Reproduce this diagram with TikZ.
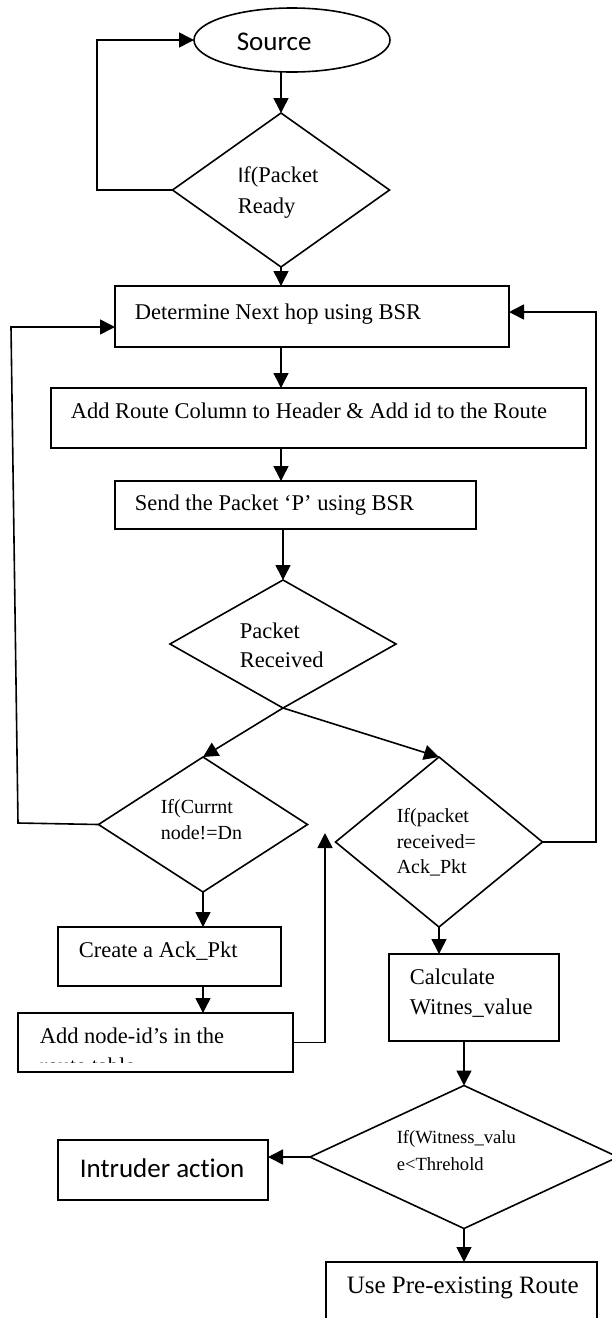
\documentclass[tikz,border=0pt]{standalone}
\usepackage{fontspec}
\setmainfont{Liberation Serif}
\newfontfamily\calibri[Ligatures=NoCommon]{Carlito}
\usetikzlibrary{arrows.meta,shapes.geometric}
\begin{document}
\begin{tikzpicture}[x=1pt,y=-1pt,
  line width=1.6pt,
  arr/.style={-{Triangle[length=15pt,width=15pt]}},
  boxnode/.style={draw,rectangle,inner sep=0pt,outer sep=0pt},
  dia/.style={draw,diamond,inner sep=0pt,outer sep=0pt},
  txt/.style={anchor=base west,inner sep=0pt,font=\fontsize{22.5}{27}\selectfont},
  txts/.style={anchor=base west,inner sep=0pt,font=\fontsize{20}{24}\selectfont},
  txtw/.style={anchor=base west,inner sep=0pt,font=\fontsize{18.6}{22}\selectfont},
  txtc/.style={anchor=base west,inner sep=0pt,font=\calibri\fontsize{27}{32}\selectfont},
]
\useasboundingbox[fill=white] (0,0) rectangle (611,1318);

% shapes
\node[draw,ellipse,inner sep=0pt,outer sep=0pt,minimum width=196pt,minimum height=64pt] (src) at (292,40) {};
\node[dia,minimum width=217pt,minimum height=154pt] (d1) at (281,190) {};
\node[boxnode,minimum width=394pt,minimum height=61pt] (b1) at (312,316.5) {};
\node[boxnode,minimum width=535pt,minimum height=60pt] (b2) at (318.5,418) {};
\node[boxnode,minimum width=361pt,minimum height=48pt] (b3) at (295.5,505) {};
\node[dia,minimum width=226pt,minimum height=128pt] (d2) at (283,644) {};
\node[dia,minimum width=209pt,minimum height=135pt] (d3) at (203,824.5) {};
\node[dia,minimum width=207pt,minimum height=170pt] (d4) at (439,842) {};
\node[boxnode,minimum width=223pt,minimum height=59pt] (b4) at (169.5,956.5) {};
\node[boxnode,minimum width=275pt,minimum height=59pt] (b5) at (155.5,1042.5) {};
\node[boxnode,minimum width=170pt,minimum height=87pt] (b6) at (474,997.5) {};
\node[dia,minimum width=308pt,minimum height=143pt] (d5) at (464,1157) {};
\node[boxnode,minimum width=210pt,minimum height=60pt] (b7) at (163,1170) {};
\node[boxnode,minimum width=271pt,minimum height=68pt] (b8) at (461.5,1296) {};

% texts
\node[txtc] (tsrc) at (236,50) {Source};
\node[txt] (t1a) at (237,182) {{\calibri I}f(Packet};
\node[txt] (t1b) at (237,213) {Ready};
\node[txt] (tb1) at (134,319) {Determine Next hop using BSR};
\node[txt] (tb2) at (70,418) {Add Route Column to Header \& Add id to the Route};
\node[txt] (tb3) at (134,510) {Send the Packet ‘P’ using BSR};
\node[txt] (t2a) at (239,638) {Packet};
\node[txt] (t2b) at (239,667) {Received};
\node[txts] (t3a) at (160,813) {If(Currnt};
\node[txts] (t3b) at (160,839) {node!=Dn};
\node[txts] (t4a) at (396,822) {If(packet};
\node[txts] (t4b) at (396,848) {received=};
\node[txts] (t4c) at (396,873) {Ack\_Pkt};
\node[txt] (tb4) at (78,957) {Create a Ack\_Pkt};
\node[txt] (tb5) at (39,1043) {Add node-id’s in the};
\begin{scope}
\clip (18,1013) rectangle (293,1062);
\node[txt] (tb5b) at (39,1073) {route table};
\end{scope}
\node[txt] (tb6a) at (409,984) {Calculate};
\node[txt] (tb6b) at (409,1014) {Witnes\_value};
\node[txtw] (t5a) at (396,1143) {If(Witness\_valu};
\node[txtw] (t5b) at (396,1170) {e<Threhold};
\node[txtc] (tb7) at (79,1177) {Intruder action};
\node[anchor=base west,inner sep=0pt,font=\fontsize{25}{30}\selectfont] (tb8) at (346,1293) {Use Pre-existing Route};

% connectors
\coordinate (la) at (97,190);
\coordinate (lb1) at (18,823);
\coordinate (lb2) at (11,327);
\coordinate (rb) at (596,312);
\coordinate (up) at (325,833);

\draw[arr] (d1.north |- src.south) -- (d1.north);
\draw[arr] (d1.west) -- (la) |- (src.west);
\draw[arr] (d1.south) -- (d1.south |- b1.north);
\draw[arr] (b1.south -| d1.south) -- (b2.north -| d1.south);
\draw[arr] (b2.south -| d1.south) -- (b3.north -| d1.south);
\draw[arr] (b3.south -| d2.north) -- (d2.north);
\draw[arr] (d2.south) -- (d3.north);
\draw[arr] (d2.south) -- (d4.north);
\draw[arr] (d3.west) -- (lb1) -- (lb2) -- (lb2 -| b1.west);
\draw[arr] (d4.east) -- (d4.east -| rb) -- (rb) -- (rb -| b1.east);
\draw[arr] (d3.south) -- (d3.south |- b4.north);
\draw[arr] (b4.south -| d3.south) -- (b5.north -| d3.south);
\draw[arr] (b5.east) -- (b5.east -| up) -- (up);
\draw[arr] (d4.south) -- (d4.south |- b6.north);
\draw[arr] (b6.south -| d5.north) -- (d5.north);
\draw[arr] (d5.west) -- (d5.west -| b7.east);
\draw[arr] (d5.south) -- (d5.south |- b8.north);
\end{tikzpicture}
\end{document}
